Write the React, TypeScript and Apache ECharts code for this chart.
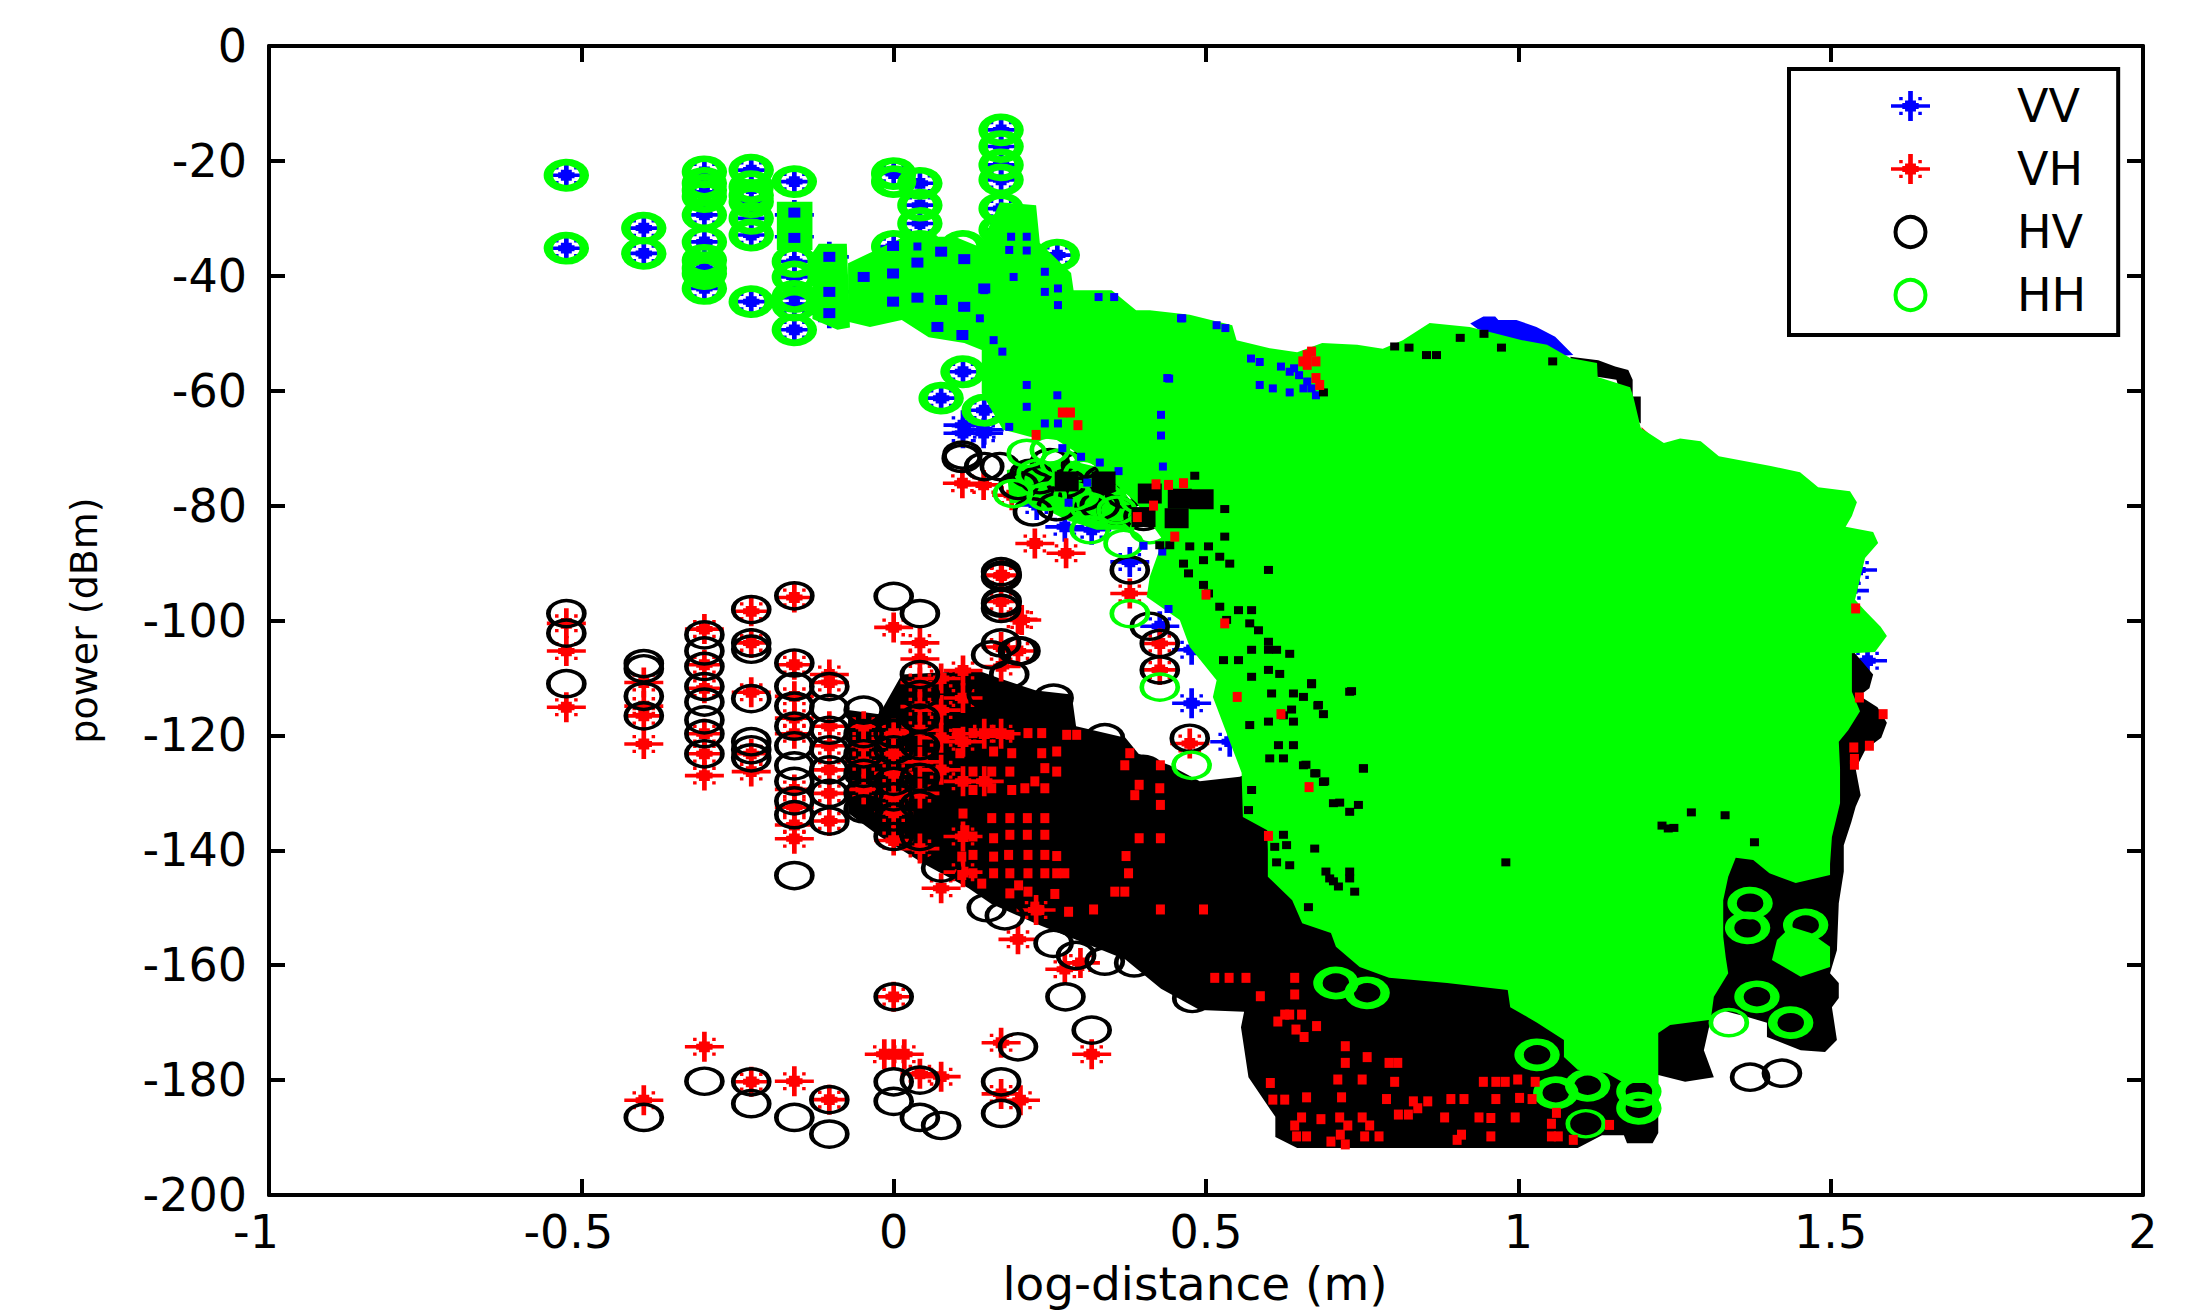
import React, { useEffect, useRef } from "react";
import * as echarts from "echarts";

type P = number[];

const xTicks = { min: -1, max: 2, interval: 0.5 };
const yTicks = { min: -200, max: 0, interval: 20 };
const legendNames = ["VV", "VH", "HV", "HH"];

// individually readable measurements: [log-distance, power]
const vvPoints: P[] = [
  [-.524,-22.5],[-.524,-35.2],[-.4,-31.7],[-.4,-36.1],
  [-.303,-21.9],[-.303,-23.9],[-.303,-25.6],[-.303,-29.4],[-.303,-34.1],[-.303,-38.7],[-.303,-42.2],
  [-.228,-21.6],[-.228,-24.8],[-.228,-27.1],[-.228,-30],[-.228,-32.9],[-.228,-44.5],
  [-.159,-23.6],[-.159,-29.4],[-.159,-33.2],[-.159,-37.5],[-.159,-40.2],[-.159,-43.6],[-.159,-45.1],[-.159,-49.4],
  [-.103,-36.7],[-.103,-42.8],[-.103,-46.5],[0,-22.2],[0,-34.9],[.042,-23.9],[.042,-27.7],[.042,-30.9],
  [.172,-14.6],[.172,-17.5],[.172,-20.7],[.172,-23.3],[.172,-28.3],[.172,-32],[.172,-35.5],[.262,-36.4],
  [.111,-56.7],[.111,-66],[.076,-61.3],[.145,-63.4],[.145,-66.8],
  [.144,-67.4],[.111,-67.4],[.229,-79.9],[.274,-83.7],[.317,-84.2],[.378,-89.8],[.426,-101],[.477,-114.4],[.538,-121.1],[.477,-105.1],
  [1.559,-107],[1.543,-91.2],[1.53,-94.8],
];

const vhPoints: P[] = [
  [-.524,-100.5],[-.524,-105.3],[-.524,-115.1],[-.4,-110.8],[-.4,-114.9],[-.4,-116.6],[-.4,-121.5],
  [-.303,-101.5],[-.303,-107.7],[-.303,-111.8],[-.303,-119.7],[-.303,-123.2],[-.303,-127],
  [-.228,-98.4],[-.228,-103.9],[-.228,-112.5],[-.228,-123.2],[-.228,-126.3],
  [-.159,-96],[-.159,-107.7],[-.159,-113.2],[-.159,-117],[-.159,-119.7],[-.159,-129.4],[-.159,-132.5],[-.159,-135.6],[-.159,-138],
  [-.103,-109.4],[-.103,-110.8],[-.103,-118.4],[-.103,-121.8],[-.103,-126],[-.103,-130.1],[-.103,-134.9],
  [-.048,-118.4],[-.048,-121.8],[-.048,-124.6],[-.048,-129.4],
  [0,-101.2],[0,-119.7],[0,-123.2],[0,-126.6],[0,-130.7],[0,-133.5],[0,-138.3],
  [.042,-103.9],[.042,-106.7],[.042,-110.8],[.042,-115],[.042,-119.1],[.042,-124.6],[.042,-130.1],[.042,-139.7],
  [.076,-110.1],[.076,-115.6],[.076,-120.4],[.076,-126],[.076,-146.6],
  [.111,-108.7],[.111,-113.5],[.111,-121.1],[.111,-128],[.111,-137.6],[.111,-143.8],
  [.145,-119.7],[.145,-128],[.172,-92.2],[.172,-96.7],[.172,-104.6],[.172,-108],[.172,-119.7],[.199,-99.8],[.199,-105.3],
  [.199,-155.5],[.228,-150.4],[.274,-160.7],[.299,-159.6],[.317,-175.5],
  [-.303,-174.2],[-.4,-183.5],[-.228,-180.3],[-.159,-180.2],[-.103,-183.4],[0,-165.5],[0,-175.5],[-.015,-175.5],[.017,-175.5],
  [.042,-178.9],[.076,-179.4],[.172,-173.5],[.172,-182.4],[.203,-183.5],
  [.11,-76.1],[.144,-76.4],[.226,-86.6],[.276,-88.3],[.173,-92.1],[.205,-99.9],[.378,-95.3],[.426,-104],[.426,-108.6],[.474,-121.4],[.189,-78.2],[.352,-80.6],
];

const hvPoints: P[] = [
  [-.524,-98.8],[-.524,-102.2],[-.524,-111],[-.4,-107.5],[-.4,-108.4],[-.4,-113.2],[-.4,-116.6],
  [-.303,-102.5],[-.303,-105.3],[-.303,-108],[-.303,-111.5],[-.303,-114.2],[-.303,-117.3],[-.303,-119.7],[-.303,-123.2],
  [-.228,-98.1],[-.228,-103.9],[-.228,-105],[-.228,-113.6],[-.228,-121.1],[-.228,-122.5],[-.228,-123.9],
  [-.159,-95.7],[-.159,-107.4],[-.159,-111.5],[-.159,-114.9],[-.159,-118.4],[-.159,-121.8],[-.159,-125.3],[-.159,-128],[-.159,-131.4],[-.159,-133.8],[-.159,-144.4],
  [-.103,-111.5],[-.103,-115.3],[-.103,-119.1],[-.103,-122.5],[-.103,-126],[-.103,-130.1],[-.103,-134.9],
  [-.048,-115.6],[-.048,-119.7],[-.048,-123.2],[-.048,-126.6],[-.048,-130.1],[-.048,-132.8],
  [0,-95.8],[0,-119.7],[0,-122.5],[0,-128],[0,-130.7],[0,-134.2],[0,-137.6],
  [.042,-98.8],[.042,-109.4],[.042,-112.9],[.042,-117],[.042,-121.8],[.042,-127.3],[.042,-132.1],[.042,-137.6],
  [.076,-143.1],[.172,-91.5],[.172,-92.4],[.172,-97],[.172,-97.9],[.172,-103.9],[.199,-105.3],
  [.149,-150],[.178,-151.4],[.256,-156.2],[.292,-158.3],[.338,-159.3],[.385,-159.6],[.478,-165.8],
  [.256,-113.5],[.338,-120.4],[.399,-125.9],[.149,-112.9],[.203,-105.3],[.156,-106],[.185,-109.4],
  [-.4,-186.5],[-.303,-180.2],[-.228,-180.3],[-.228,-184.1],[-.159,-186.5],[-.103,-183.4],[-.103,-189.4],[0,-165.5],[0,-180.3],[0,-183.7],
  [.042,-180],[.042,-186.5],[.076,-187.9],[.172,-180.3],[.172,-185.8],[.199,-174.2],[.275,-165.5],[.317,-171.3],
  [1.371,-179.5],[1.422,-178.8],
  [.11,-71.2],[.145,-73.2],[.109,-71.8],[.17,-73.2],[.218,-74.4],[.234,-75.5],[.277,-76.1],[.336,-75.5],[.357,-80.8],[.223,-81.1],[.4,-81.9],[.41,-77.9],[.453,-79],[.453,-82.2],[.304,-78.4],[.261,-80.2],
  [.173,-92.1],[.173,-96.7],[.378,-91.2],[.426,-104],[.426,-108.6],[.474,-120.5],[.41,-101],
  [.2,-76.5],[.25,-72.5],[.3,-73],[.33,-80],[.37,-78],
];

// HH markers in overplotted spots, drawn with a heavier outline
const hhHeavy: P[] = [
  [-.524,-22.5],[-.524,-35.2],[-.4,-31.7],[-.4,-36.1],
  [-.303,-21.9],[-.303,-23.9],[-.303,-25.1],[-.303,-26.2],[-.303,-29.4],[-.303,-34.1],[-.303,-37.3],[-.303,-38.7],[-.303,-39.6],[-.303,-42.2],
  [-.228,-21.6],[-.228,-24.5],[-.228,-26],[-.228,-27.1],[-.228,-30],[-.228,-32.9],[-.228,-44.5],
  [-.159,-23.6],[-.159,-37.5],[-.159,-40.2],[-.159,-43.6],[-.159,-45.1],[-.159,-49.4],
  [0,-22.2],[0,-23.6],[.042,-23.9],[.042,-27.7],[.042,-30.9],[0,-34.9],[.042,-34.9],
  [.172,-14.6],[.172,-17.5],[.172,-20.7],[.172,-23.3],[.172,-28.3],[.172,-32],[.262,-36.4],[.111,-56.7],[.076,-61.3],[.145,-63.4],[.111,-34.9],
  [1.371,-149.2],[1.367,-153.5],[1.46,-153],[1.382,-165.5],[1.436,-170],[.708,-163.1],[.758,-164.8],[1.03,-175.6],[1.06,-182.2],[1.111,-180.9],[1.193,-184.9],[1.193,-182],
];
const hhPoints: P[] = [
  [.191,-77.9],[.229,-74.4],[.266,-72.6],[.245,-78.4],[.288,-78.4],[.314,-80.2],[.25,-70.3],[.213,-70.9],[.357,-80.8],[.394,-79],[.341,-70.3],[.314,-84.2],[.368,-86.6],[.304,-74.4],[.41,-84.2],[.378,-75.5],
  [.378,-98.8],[.426,-111.6],[.477,-125.2],[1.337,-170],[1.108,-187.6],
];

// regions where thousands of markers merge into a solid colour: outline [log-distance, power]
const hvSolid: P[] = [
  [-.073,-115.6],[-.023,-116.3],[.013,-109.4],[.135,-108.7],[.17,-110.1],[.228,-112.2],[.285,-112.9],[.292,-118.4],[.371,-120.4],[.392,-123.2],[.442,-125.2],[.49,-128],[.554,-127.2],
  [1.2,-100],[1.534,-105.1],[1.568,-109.4],[1.562,-111.8],[1.546,-113.1],[1.575,-115.1],[1.59,-117.8],[1.581,-120.4],[1.556,-122.4],[1.54,-125.8],[1.548,-130.4],[1.54,-132.4],[1.533,-135.1],[1.521,-139.1],[1.521,-143.7],
  [1.513,-149.2],[1.51,-157.4],[1.499,-161.4],[1.513,-163.1],[1.513,-165.7],[1.502,-167.3],[1.51,-173],[1.491,-175.1],[1.452,-174.8],[1.398,-172.5],[1.398,-170],[1.367,-169],[1.324,-167.8],[1.308,-169.5],[1.297,-174.8],[1.313,-179.5],[1.267,-180.3],[1.224,-179.1],
  [1.224,-189.2],[1.215,-191],[1.174,-191],[1.169,-189.6],[1.134,-189.6],[1.095,-191.8],[.863,-191.8],[.646,-191.8],[.611,-189.9],[.611,-186.4],[.568,-179.5],[.556,-170.8],[.561,-168.1],[.49,-167.8],
  [.428,-164.1],[.371,-159],[.228,-152.8],[.156,-149.3],[.12,-146.6],[.049,-142.4],[-.022,-137.6],[-.073,-133.5],
];
const hvRim: P[] = [[1.083,-54.1],[1.128,-54.7],[1.155,-55.8],[1.176,-56.4],[1.183,-58.1],[1.183,-61],[1.196,-61],[1.196,-65.7],[1.173,-64],[1.157,-58.1],[1.093,-57]];
const vvRim: P[] = [[.923,-48.3],[.944,-47.1],[.963,-47.1],[.968,-47.7],[.997,-47.7],[1.013,-48.3],[1.029,-48.9],[1.059,-50.6],[1.088,-53.8],[1.051,-54.1],[.944,-50]];
const vhRim: P[] = [[1.197,-66.3],[1.211,-67.7],[1.211,-69.2],[1.2,-68.6]];
const hhSolid: P[] = [
  [-.073,-37.8],[.0165,-33.2],[.098,-33.2],[.138,-35],[.17,-27.2],[.228,-27.7],[.234,-34.3],[.284,-39.5],[.288,-42.5],[.349,-42.5],[.388,-46],
  [.41,-46],[.474,-46.8],[.542,-48.6],[.549,-51.2],[.602,-52.6],[.646,-53.3],[.686,-51.7],[.742,-52],[.783,-52.7],[.815,-51.2],[.858,-48.2],[.922,-48.9],[.962,-50],[1.006,-51.2],[1.046,-52],[1.083,-54.3],[1.126,-55.2],[1.127,-57.6],[1.179,-59.4],[1.184,-61],
  [1.196,-66.5],[1.233,-69.1],[1.259,-68.3],[1.292,-68.8],[1.321,-71.4],[1.404,-73.1],[1.451,-74.2],[1.48,-76.8],[1.531,-77.5],[1.542,-79.4],[1.534,-81.8],[1.524,-83.7],[1.568,-84.6],[1.576,-86.5],[1.555,-89.1],[1.539,-96.4],[1.555,-98.3],[1.58,-101.1],[1.59,-102.7],[1.571,-105.5],[1.534,-105.7],[1.534,-112.4],[1.547,-115.8],[1.528,-119.1],[1.513,-121.1],[1.515,-125.7],[1.515,-131.8],[1.502,-137.7],[1.499,-142.4],[1.499,-144.3],
  [1.444,-145.7],[1.402,-144],[1.376,-141.7],[1.348,-141.3],[1.336,-144.6],[1.328,-148.7],[1.328,-155],[1.332,-158.6],[1.336,-161.4],[1.313,-165.5],[1.308,-169.5],[1.243,-170.4],[1.224,-171.8],[1.224,-180.5],[1.169,-180.5],[1.142,-178.8],[1.095,-178.2],[1.073,-176],[1.073,-173],[1.03,-170],[.987,-167.3],[.983,-164.3],[.886,-163.1],[.793,-162.2],[.746,-160.3],[.708,-156.8],[.7,-154.4],[.654,-152.7],[.638,-148.7],[.599,-144.6],[.599,-140],
  [.598,-136.5],[.559,-134.2],[.557,-126.5],[.511,-113.3],[.517,-110.4],[.474,-104.6],[.458,-99.9],[.405,-95.9],[.41,-92.4],[.431,-86],[.389,-79.6],[.33,-73.8],[.293,-70.8],[.261,-68.6],[.218,-68],[.175,-66.8],[.141,-60.4],[.141,-52.9],[.113,-51.7],[.056,-50.7],[.013,-47.7],[-.038,-48.9],[-.073,-48],
];
const hhLobe: P[] = [[1.414,-155.6],[1.436,-153.3],[1.468,-154.4],[1.499,-156.8],[1.499,-160.3],[1.452,-162],[1.406,-159.1]];
const hhColumnA: P[] = [[-.187,-27.1],[-.13,-27.1],[-.13,-35.5],[-.187,-35.5]];
const hhColumnB: P[] = [[-.13,-36],[-.12,-34.4],[-.075,-34.4],[-.07,-49],[-.09,-49.4],[-.13,-47.5]];
const hhMix: P[] = [[.181,-73.8],[.277,-72],[.346,-73.8],[.389,-80.8],[.378,-84.2],[.325,-84.2],[.277,-82.5],[.223,-79.6],[.186,-79.6]];

// small fragments of a colour that show through the overplotting
const vhFragments: P[] = [
  [.514,-162.2],[.537,-162.2],[.564,-162.2],[.642,-162.2],[.587,-165.4],[.642,-165.1],[.626,-168.6],[.653,-168.6],[.634,-168.6],[.615,-169.8],[.644,-171.2],[.657,-172.5],[.677,-170.6],[.723,-174.1],[.758,-176],[.793,-177],[.807,-177],[.723,-177],[.711,-179.9],[.75,-179.9],[.802,-180.3],[.944,-180.3],[.964,-180.3],[.979,-180.3],[.999,-179.9],[1.027,-180.3],[.603,-180.5],[.607,-183.4],[.626,-183.4],[.661,-183],[.717,-183],[.789,-183.3],[.832,-183.7],[.855,-183.7],[.892,-183.3],[.913,-183.3],[.964,-183.3],[1.002,-183.1],[1.022,-183.3],[.839,-184.9],[.808,-186],[.824,-186],[.882,-186.5],[.937,-186.5],[.956,-186.6],[.653,-186.5],[.684,-186.8],[.714,-186.5],[.75,-186.5],[.727,-187.9],[.762,-187.9],[.642,-187.9],[.909,-189.5],[.645,-189.8],[.661,-189.8],[.715,-189.5],[.754,-189.8],[.777,-189.8],[.956,-189.8],[1.053,-189.8],[1.088,-190.4],[1.064,-189.8],[.902,-190.4],[.723,-191.2],[.7,-190.7],[.995,-186.5],[1.061,-185.7],[1.053,-187.6],[1.146,-187.8],
  [.101,-119.6],[.127,-119.6],[.16,-119.6],[.186,-119.9],[.215,-119.6],[.237,-119.6],[.277,-119.9],[.293,-119.9],[.106,-123.1],[.16,-122.8],[.189,-123.1],[.237,-123.1],[.261,-122.8],[.127,-126.3],[.157,-126.3],[.186,-126.3],[.242,-125.7],[.261,-126.3],[.127,-129.5],[.157,-129.2],[.189,-129.5],[.21,-129.2],[.242,-129.2],[.226,-128],[.111,-133.6],[.157,-134.4],[.186,-134.4],[.214,-134.4],[.242,-134.4],[.114,-136.5],[.127,-137.6],[.16,-137.9],[.186,-137.3],[.214,-137.3],[.242,-137.3],[.109,-141.1],[.127,-140.8],[.16,-141.1],[.184,-140.8],[.215,-140.8],[.242,-140.8],[.261,-141],[.109,-144.3],[.127,-144],[.16,-144],[.186,-144],[.215,-144],[.242,-144],[.261,-144],[.274,-144],[.376,-144],[.141,-145.8],[.2,-146.1],[.186,-147.5],[.215,-147.2],[.258,-147.6],[.354,-147.2],[.37,-147.2],[.226,-149.8],[.28,-150.7],[.234,-150.4],[.32,-150.3],[.427,-150.3],[.496,-150.3],[.393,-128.6],[.426,-129.2],[.386,-130.4],[.427,-132.1],[.393,-137.9],[.427,-137.9],[.372,-141],[.427,-125.2],[.37,-125.2],[.378,-123.1],
  [.669,-53.2],[.662,-53.8],[.655,-54.9],[.676,-54.9],[.662,-55.5],[.676,-57.8],[.682,-59],[.27,-63.8],[.283,-63.8],[.295,-66],[.228,-67.7],
  [.464,-76.1],[.44,-76.4],[.42,-76.3],[.39,-82],[.416,-80],[.45,-85.4],[.5,-95.5],[.53,-100.5],[.55,-113.3],[.62,-116.3],[.665,-129],[.6,-137.5],
  [1.54,-97.9],[1.546,-113.4],[1.584,-116.3],[1.537,-122.1],[1.538,-124.1],[1.538,-125.1],[1.562,-121.8],
];
const hvFragments: P[] = [
  [.482,-74.8],[.53,-80.6],[.53,-85.4],[.426,-86.9],[.442,-86.9],[.474,-87.1],[.504,-87.1],[.522,-88.9],[.538,-90.1],[.6,-91.2],[.464,-90.1],[.496,-89.5],[.472,-91.8],[.496,-93.8],[.504,-95.3],[.522,-97.6],[.552,-98.2],[.573,-98.2],[.533,-99.9],[.57,-100.5],[.584,-101.7],[.6,-103.7],[.573,-105.1],[.6,-105.1],[.613,-105.1],[.634,-105.8],[.528,-106.9],[.552,-106.9],[.573,-109.8],[.6,-108.6],[.618,-109.3],[.669,-110.9],[.73,-112.4],[.605,-112.7],[.64,-112.7],[.656,-113.3],[.68,-114.7],[.637,-115.5],[.688,-116.3],[.624,-116.5],[.6,-117.6],[.64,-117.6],[.57,-118.2],[.752,-125.7],[.656,-125.2],[.674,-126.6],[.64,-121.7],[.616,-121.7],[.602,-124],[.624,-124],[.573,-129.5],[.69,-128],[.704,-131.8],[.744,-132.1],[.73,-133.3],[.568,-133],[.624,-137.3],[.61,-139.4],[.629,-139.1],[.674,-139.7],[.613,-142.1],[.634,-142.6],[.698,-144.9],[.712,-146.3],[.73,-144.9],[.738,-147.2],[.664,-149.9],
  [1.249,-136.1],[1.24,-136.2],[1.277,-133.4],[1.331,-133.9],[1.378,-138.6],[1.23,-135.7],[.98,-142.1],[.714,-131.7],[.733,-112.3],[.679,-114.8],[.669,-111.1],[1.055,-54.9],[.973,-52.5],[.907,-50.8],[.945,-50.1],[.688,-60.3],[.869,-53.8],[.853,-53.8],[.802,-52.3],[.825,-52.5],[.66,-125.1],[.676,-126.6],[.688,-128.1],[.752,-125.8],[.692,-143.7],[.704,-145.4],[.73,-143.7],[1.362,-142.4],
];
const hvPatches: P[] = [[.493,-78.9],[.453,-82.2],[.41,-77.9],[.458,-78.8],[.277,-75.8],[.336,-75.8],[.4,-82]];
const vvFragments: P[] = [
  [.462,-47.4],[.517,-48.6],[.531,-49.1],[.572,-54.4],[.586,-55],[.62,-55.8],[.634,-56.7],[.641,-56.1],[.649,-57.3],[.662,-58.4],[.586,-59],[.607,-59.6],[.656,-59.6],[.669,-59.6],[.634,-60.3],[.676,-60.8],[.428,-64.2],[.428,-67.8],[.431,-73.2],[.441,-57.9],
  [.16,-51.2],[.174,-53.2],[.213,-59],[.262,-60.8],[.213,-62.8],[.185,-66.3],[.242,-65.7],[.263,-65.7],[.138,-47.4],[.263,-45.1],[.242,-42.8],[.263,-42.2],[.192,-40.2],[.185,-35.5],[.213,-35.6],[.242,-39.3],[.145,-42.5],[.11,-45.4],[.074,-44.2],[.038,-34.9],[.188,-33.2],[.213,-33.2],[.328,-43.7],[.353,-43.7],[.46,-47.4],[.438,-57.8],
  [.27,-70],[.3,-71.5],[.33,-72.5],[.36,-74],[.31,-76],[.28,-79.5],[.4,-87],[.43,-88],[.44,-98],
];
const vvPatches: P[] = [[-.001,-34.8],[-.001,-44.5],[.038,-43.8],[.038,-37.7],[.076,-35.8],[.076,-44.2],[.113,-37.1],[.113,-45.4],[.145,-42.2],[.07,-48.9],[.11,-50.3],[-.001,-39.6],[-.159,-29],[-.159,-33.4],[-.103,-36.7],[-.103,-42.8],[-.103,-46.5],[-.048,-40.2]];

const STAR = "path://M44 0H56V100H44ZM0 44H100V56H0ZM36 32H64V68H36ZM29 40H71V60H29ZM21 20H30V31H21ZM70 20H79V31H70ZM21 69H30V80H21ZM70 69H79V80H70Z";
const BLUE = "#0000ff", RED = "#ff0000", BLACK = "#000000", GREEN = "#00ff00";
const FONT = "DejaVu Sans";

const solid = (name: string, points: P[], fill: string) => ({
  type: "custom", name, coordinateSystem: "cartesian2d", data: points, silent: true,
  renderItem: (p: any, api: any) =>
    p.dataIndex === 0
      ? { type: "polygon", shape: { points: points.map((q) => api.coord(q)) }, style: { fill } }
      : null,
});
const stars = (name: string, data: P[], color: string) => ({
  type: "scatter", name, data, symbol: STAR, symbolSize: [39, 30], silent: true, itemStyle: { color, opacity: 1 },
});
const rings = (name: string, data: P[], color: string, w: number) => ({
  type: "scatter", name, data, symbol: "circle", symbolSize: [36, 26], silent: true,
  itemStyle: { color: "none", borderColor: color, borderWidth: w, opacity: 1 },
});
const bits = (name: string, data: P[], color: string, size: number[]) => ({
  type: "scatter", name, data, symbol: "rect", symbolSize: size, silent: true, itemStyle: { color, opacity: 1 },
});

export default function App() {
  const ref = useRef<HTMLDivElement>(null);
  useEffect(() => {
    const chart = echarts.init(ref.current!, null, { renderer: "svg" });
    const axisLine = { show: true, onZero: false, lineStyle: { color: BLACK, width: 4 } };
    const tick = { show: true, inside: true, length: 16, lineStyle: { color: BLACK, width: 4 } };
    const label = (v: number) => (v < 0 ? `{n|${v}}` : `${v}`);
    const layers: any[] = [
      solid("VV", vvRim, BLUE),
      stars("VV", vvPoints, BLUE),
      solid("HV", hvSolid, BLACK),
      solid("HV", hvRim, BLACK),
      solid("VH", vhRim, RED),
      stars("VH", vhPoints, RED),
      solid("HH", hhMix, GREEN),
      rings("HV", hvPoints, BLACK, 4),
      solid("HH", hhSolid, GREEN),
      solid("HH", hhLobe, GREEN),
      solid("HH", hhColumnA, GREEN),
      solid("HH", hhColumnB, GREEN),
      rings("HH", hhHeavy, GREEN, 8),
      rings("HH", hhPoints, GREEN, 4),
      bits("VV", vvFragments, BLUE, [8, 8]),
      bits("VV", vvPatches, BLUE, [12, 10]),
      bits("HV", hvFragments, BLACK, [9, 8]),
      bits("HV", hvPatches, BLACK, [24, 20]),
      bits("VH", vhFragments, RED, [9, 10]),
    ];
    chart.setOption({
      animation: false,
      backgroundColor: "#ffffff",
      grid: { left: 269, right: 53, top: 46, bottom: 117, containLabel: false, outerBoundsMode: "none" },
      xAxis: [
        {
          type: "value", ...xTicks, position: "bottom", axisLine, axisTick: tick, splitLine: { show: false },
          name: "log-distance (m)", nameLocation: "middle", nameGap: 62,
          nameTextStyle: { fontFamily: FONT, fontSize: 47, color: BLACK, padding: [0, 22, 0, 0] },
          axisLabel: {
            formatter: label, margin: 14, fontFamily: FONT, fontSize: 46, color: BLACK,
            rich: { n: { fontFamily: FONT, fontSize: 46, color: BLACK, padding: [0, 26, 0, 0] } },
          },
        },
        { type: "value", ...xTicks, position: "top", axisLine, axisTick: tick, axisLabel: { show: false }, splitLine: { show: false } },
      ],
      yAxis: [
        {
          type: "value", ...yTicks, position: "left", axisLine, axisTick: tick, splitLine: { show: false },
          name: "power (dBm)", nameLocation: "middle", nameGap: 166,
          nameTextStyle: { fontFamily: FONT, fontSize: 38, color: BLACK },
          axisLabel: { margin: 22, fontFamily: FONT, fontSize: 46, color: BLACK },
        },
        { type: "value", ...yTicks, position: "right", axisLine, axisTick: tick, axisLabel: { show: false }, splitLine: { show: false } },
      ],
      legend: {
        z: 100,
        orient: "vertical", left: 1789, top: 69, align: "left", symbolKeepAspect: false,
        backgroundColor: "#ffffff", borderColor: BLACK, borderWidth: 4,
        padding: [14, 32, 17, 102], itemWidth: 39, itemHeight: 30, itemGap: 17, selectedMode: false,
        textStyle: { fontFamily: FONT, fontSize: 46, color: BLACK, padding: [0, 0, 0, 82] },
        data: [
          { name: legendNames[0], icon: STAR, itemStyle: { color: BLUE, opacity: 1 } },
          { name: legendNames[1], icon: STAR, itemStyle: { color: RED, opacity: 1 } },
          { name: legendNames[2], icon: "circle", itemStyle: { color: "none", borderColor: BLACK, borderWidth: 4, opacity: 1 } },
          { name: legendNames[3], icon: "circle", itemStyle: { color: "none", borderColor: GREEN, borderWidth: 4, opacity: 1 } },
        ],
      },
      series: layers.map((s, i) => ({ ...s, z: i + 2 })),
    });
    return () => chart.dispose();
  }, []);
  return <div ref={ref} style={{ position: "absolute", left: 0, top: 0, width: 2196, height: 1312 }} />;
}
